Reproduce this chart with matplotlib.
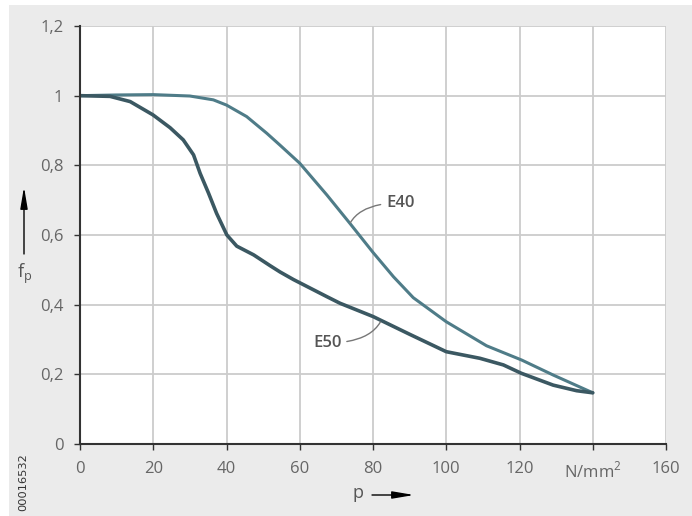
import matplotlib.pyplot as plt
from matplotlib.patches import Rectangle

# Data (p in N/mm^2, f_p)
p_e40 = [0, 10, 20, 30, 36.4, 40, 45.5, 51, 54.6, 60, 67.4, 73.8, 80, 85.6, 91, 100, 111, 120.6, 129.2, 140]
f_e40 = [1.0, 1.002, 1.003, 0.999, 0.988, 0.973, 0.94, 0.892, 0.858, 0.806, 0.715, 0.632, 0.55, 0.48, 0.42,
         0.351, 0.282, 0.241, 0.198, 0.147]

p_e50 = [0, 8.2, 13.7, 19.9, 24.6, 28.2, 31, 32.8, 35.1, 37.3, 40.1, 42.8, 47.4, 51.9, 54.6, 58.3, 67.4, 71,
         80, 90, 100, 109.2, 115.6, 120.5, 129.2, 135.6, 140]
f_e50 = [1.0, 0.998, 0.983, 0.945, 0.908, 0.873, 0.83, 0.777, 0.72, 0.662, 0.60, 0.568, 0.543, 0.512, 0.494,
         0.472, 0.423, 0.404, 0.366, 0.315, 0.265, 0.246, 0.227, 0.203, 0.169, 0.153, 0.147]

x_ticks = [0, 20, 40, 60, 80, 100, 120, 140, 160]
x_labels = ['0', '20', '40', '60', '80', '100', '120', 'N/mm$^2$', '160']
y_ticks = [0, 0.2, 0.4, 0.6, 0.8, 1.0, 1.2]
y_labels = ['0', '0,2', '0,4', '0,6', '0,8', '1', '1,2']

plt.rcParams['font.family'] = ['Open Sans', 'DejaVu Sans']
plt.rcParams['mathtext.fontset'] = 'custom'
plt.rcParams['mathtext.rm'] = 'Open Sans'

fig = plt.figure(figsize=(6.92, 5.16), dpi=100, facecolor='white')
fig.patches.append(Rectangle((9 / 692, 0), 1, 511 / 516, transform=fig.transFigure,
                             facecolor='#ebebeb', edgecolor='none', zorder=-10))
ax = fig.add_axes([80 / 692, 1 - 444 / 516, 586 / 692, 418 / 516])
ax.set_facecolor('white')

ax.plot(p_e40, f_e40, color='#4f7c88', lw=2.2, solid_capstyle='round', solid_joinstyle='round')
ax.plot(p_e50, f_e50, color='#3b5862', lw=2.6, solid_capstyle='round', solid_joinstyle='round')

ax.set_xlim(0, 160)
ax.set_ylim(0, 1.2)
ax.set_xticks(x_ticks)
ax.set_xticklabels(x_labels)
ax.set_yticks(y_ticks)
ax.set_yticklabels(y_labels)
ax.grid(True, color='#cccccc', lw=1.3)
ax.set_axisbelow(True)
for s in ['top', 'right']:
    ax.spines[s].set_visible(False)
for s in ['left', 'bottom']:
    ax.spines[s].set_color('#333333')
    ax.spines[s].set_linewidth(1.5)
ax.tick_params(direction='out', length=4, width=1, color='#333333',
               labelsize=12, labelcolor='#666666', pad=8)

# curve labels with leaders
ax.annotate('E40', xy=(73.8, 0.635), xytext=(83.6, 0.692), fontsize=12, color='#555555',
            fontweight='semibold', va='center', ha='left',
            arrowprops=dict(arrowstyle='-', color='#777777', lw=1,
                            connectionstyle='angle3,angleA=0,angleB=60', shrinkA=2, shrinkB=0))
ax.annotate('E50', xy=(82, 0.35), xytext=(63.6, 0.29), fontsize=12, color='#555555',
            fontweight='semibold', va='center', ha='left',
            arrowprops=dict(arrowstyle='-', color='#777777', lw=1,
                            connectionstyle='angle3,angleA=0,angleB=60', shrinkA=2, shrinkB=0))

# axis labels with arrows
fig.text(25 / 692, 1 - 274 / 516, '$\\mathrm{f}_\\mathrm{p}$', fontsize=13, color='#555555',
         ha='center', va='center')
ax.annotate('', xy=(24 / 692, 1 - 187 / 516), xytext=(24 / 692, 1 - 254 / 516),
            xycoords='figure fraction',
            arrowprops=dict(arrowstyle='-|>,head_length=1.3,head_width=0.22', color='black', lw=1,
                            shrinkA=0, shrinkB=0))
fig.text(358 / 692, 1 - 493 / 516, 'p', fontsize=13, color='#555555', ha='center', va='center')
ax.annotate('', xy=(414 / 692, 1 - 495 / 516), xytext=(372 / 692, 1 - 495 / 516),
            xycoords='figure fraction',
            arrowprops=dict(arrowstyle='-|>,head_length=1.3,head_width=0.22', color='black', lw=1,
                            shrinkA=0, shrinkB=0))

fig.text(23 / 692, 1 - 482 / 516, '00016532', fontsize=8.2, rotation=90,
         ha='center', va='center', color='#333333', family='DejaVu Sans')

fig.savefig('out.png', dpi=100, facecolor=fig.get_facecolor())
